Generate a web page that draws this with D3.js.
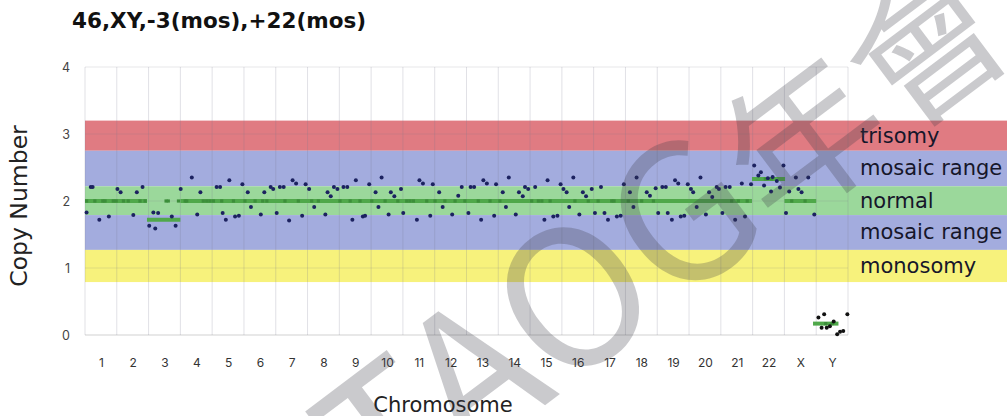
<!DOCTYPE html>
<html><head><meta charset="utf-8">
<script src="https://cdn.jsdelivr.net/npm/d3@7"></script>
<style>body{margin:0;background:#fff;}svg{display:block;font-family:"DejaVu Sans",sans-serif;}</style>
</head><body><svg id="c" width="1007" height="416"></svg>
<script>
const title = "46,XY,-3(mos),+22(mos)";
const chromosomes = ["1","2","3","4","5","6","7","8","9","10","11","12","13","14","15","16","17","18","19","20","21","22","X","Y"];
const yTicks = [0,1,2,3,4];
const bands = [
  {label:"trisomy", lo:2.75, hi:3.2, color:"#e07b82"},
  {label:"mosaic range", lo:2.22, hi:2.75, color:"#a3acde"},
  {label:"normal", lo:1.79, hi:2.22, color:"#9bd89b"},
  {label:"mosaic range", lo:1.27, hi:1.79, color:"#a3acde"},
  {label:"monosomy", lo:0.79, hi:1.27, color:"#f7f27c"}
];
// segment calls: [start, end, copy number] in genome column units
const segStart = [0, 1.95, 3, 20.98, 22, 22.9];
const segEnd   = [1.95, 3, 20.98, 22.02, 23, 23.7];
const segValue = [2.0, 1.72, 2.0, 2.33, 2.0, 0.17];
// bin positions (column units) and copy numbers
const binPos = [0.05,0.18,0.24,0.45,0.75,1.02,1.12,1.52,1.63,1.81,
 2.02,2.15,2.21,2.30,2.73,2.85,
 3.01,3.36,3.53,3.63,
 4.14,4.25,4.33,4.43,4.54,4.72,4.84,4.95,
 5.12,5.22,5.53,5.64,5.84,5.92,
 6.03,6.13,6.25,6.42,6.53,6.64,6.83,
 6.94,7.05,7.21,7.56,7.63,7.73,7.83,7.94,
 8.13,8.25,8.41,8.52,8.74,8.81,8.94,
 9.14,9.23,9.33,9.55,9.62,9.73,9.94,
 10.01,10.44,10.52,10.63,10.86,10.94,
 11.14,11.25,11.55,11.74,11.85,
 12.06,12.13,12.24,12.46,12.53,12.64,12.87,12.93,
 13.14,13.24,13.33,13.55,13.65,13.77,13.84,13.94,
 14.16,14.45,14.55,14.73,14.86,14.96,
 15.05,15.15,15.23,15.36,15.55,15.66,15.76,15.94,
 16.04,16.23,16.34,16.45,16.73,16.85,
 16.95,17.14,17.25,17.35,17.67,17.77,
 17.95,18.03,18.16,18.27,18.33,18.46,18.56,18.66,18.74,18.85,
 18.96,19.06,19.13,19.24,19.36,19.53,19.63,19.73,19.87,
 19.94,20.05,20.15,20.28,20.45,20.66,20.76,20.95,
 21.05,21.18,21.26,21.36,21.48,21.58,21.63,21.76,21.86,21.97,
 22.05,22.15,22.36,22.44,22.54,22.75,22.94,
 23.07,23.17,23.25,23.33,23.43,23.55,23.66,23.75,23.85,23.98];
const binValue = [1.83,2.21,2.21,1.72,1.77,2.18,2.13,1.79,2.13,2.21,
 1.63,1.83,1.59,1.82,1.77,1.63,
 2.18,2.35,1.80,2.13,
 2.21,2.21,1.82,1.72,2.31,1.77,1.78,2.25,
 2.13,1.91,1.80,2.13,2.21,2.18,
 1.82,2.21,2.21,1.71,2.31,2.26,1.78,
 2.25,2.18,1.91,1.80,2.13,2.07,2.21,2.18,
 2.21,2.21,1.72,2.31,1.77,1.78,2.25,
 2.13,1.91,2.35,1.80,2.13,2.07,2.18,
 1.82,1.72,2.31,2.26,1.78,2.25,
 2.13,1.91,1.80,2.08,2.21,
 1.82,2.21,2.21,1.72,2.31,2.26,1.78,2.25,
 2.13,1.91,2.35,1.80,2.13,2.07,2.21,2.18,
 2.21,1.72,2.31,1.77,1.78,2.25,
 2.18,2.13,1.91,2.35,1.80,2.13,2.07,2.18,
 1.82,2.21,1.82,1.72,1.77,1.78,
 2.25,2.13,1.91,2.35,2.13,2.08,
 2.19,1.82,2.21,2.21,1.82,1.72,2.31,2.26,1.77,1.78,
 2.25,2.18,2.13,1.91,2.35,1.80,2.13,2.06,2.21,
 2.18,1.82,2.21,2.21,1.72,2.26,1.77,2.25,
 2.53,2.38,2.43,2.23,2.34,2.14,2.36,2.30,2.20,2.53,
 1.82,2.14,2.35,2.18,2.13,2.35,1.80,
 0.26,0.11,0.31,0.11,0.13,0.20,0.01,0.05,0.06,0.31];
// small segment-marker points
const markPos = [0.05,0.31,0.56,0.63,0.89,0.98,1.21,1.36,1.73,1.89,2.55,2.62,2.94,3.15,3.2,3.72,3.83,3.93,4.04,4.3,4.67,5.03,5.35,5.59,
 5.72,6.29,6.71,7.13,7.34,8.02,8.34,8.65,9.02,9.44,9.84,10.12,10.22,10.33,10.75,11.01,11.32,
 11.64,11.95,12.37,12.74,13.05,14.05,14.26,14.37,14.63,15.41,15.83,16.14,16.57,16.64,17.09,
 17.51,17.88,20.34,20.55,20.83,21.4,21.6,22.23,22.65,23.3,23.5];
const markValue = [2,2,2,2,2,2,2,2,2,2,2,2,2,2,2,2,2,2,2,2,2,2,2,2,
 2,2,2,2,2,2,2,2,2,2,2,2,2,2,2,2,2,
 2,2,2,2,2,2,2,2,2,2,2,2,2,2,2,
 2,2,2,2,2,2.33,2.33,2,2,0.17,0.17];
const watermarkLatin = "TAOG";
const watermarkCJK = "年會";

const svg = d3.select("#c");
const x = d3.scaleLinear().domain([0, chromosomes.length]).range([85, 848]);
const y = d3.scaleLinear().domain([0, 4]).range([335, 67]);

// bands (extend to right edge)
svg.append("g").selectAll("rect").data(bands).join("rect")
  .attr("x", x(0)).attr("width", 1007 - x(0))
  .attr("y", d => y(d.hi)).attr("height", d => y(d.lo) - y(d.hi))
  .attr("fill", d => d.color);

// grid
const grid = svg.append("g");
grid.selectAll("line.v").data(d3.range(0, chromosomes.length + 1)).join("line")
  .attr("x1", d => x(d)).attr("x2", d => x(d)).attr("y1", y(0)).attr("y2", y(4))
  .attr("stroke", "rgba(120,120,140,0.22)").attr("stroke-width", 1);
grid.selectAll("line.h").data(yTicks).join("line")
  .attr("x1", x(0)).attr("x2", x(chromosomes.length)).attr("y1", d => y(d)).attr("y2", d => y(d))
  .attr("stroke", d => d === 0 ? "rgba(120,120,120,0.35)" : "rgba(120,120,140,0.18)");

// band labels
svg.append("g").selectAll("text").data(bands).join("text")
  .attr("x", 860).attr("y", d => (y(d.hi) + y(d.lo)) / 2)
  .attr("dy", "0.33em").attr("font-size", 21).attr("fill", "#16162a")
  .attr("font-family", "'DejaVu Sans',sans-serif")
  .text(d => d.label);

// y axis
const yAxis = d3.axisLeft(y).tickValues(yTicks).tickSize(0).tickPadding(0).tickFormat(d3.format("d"));
const ya = svg.append("g").attr("transform", "translate(70,0)").call(yAxis);
ya.select(".domain").remove();
ya.selectAll("text").attr("font-size", 12.5).attr("fill", "#444").attr("font-family", "Inter,sans-serif");

// x axis labels at chromosome centres
const xAxis = d3.axisBottom(x).tickValues(d3.range(chromosomes.length).map(i => i + 0.5))
  .tickSize(0).tickPadding(0).tickFormat((d, i) => chromosomes[i]);
const xa = svg.append("g").attr("transform", "translate(0,360)").call(xAxis);
xa.select(".domain").remove();
xa.selectAll("text").attr("font-size", 12).attr("fill", "#333").attr("font-family", "Inter,sans-serif").attr("dy", "0.6em");

// segments
const segs = segStart.map((s, i) => ({s, e: segEnd[i], v: segValue[i]}));
svg.append("g").selectAll("line").data(segs).join("line")
  .attr("x1", d => x(d.s)).attr("x2", d => x(d.e))
  .attr("y1", d => y(d.v)).attr("y2", d => y(d.v))
  .attr("stroke", "#4fa84a").attr("stroke-width", 4);

// marker points
svg.append("g").selectAll("rect").data(markPos.map((p, i) => ({p, v: markValue[i]}))).join("rect")
  .attr("x", d => x(d.p) - 1.6).attr("y", d => y(d.v) - 1.6).attr("width", 3.2).attr("height", 3.2)
  .attr("fill", "#3c8e3a");

// bin points
svg.append("g").selectAll("circle").data(binPos.map((p, i) => ({p, v: binValue[i]}))).join("circle")
  .attr("cx", d => x(d.p)).attr("cy", d => y(d.v)).attr("r", 2)
  .attr("fill", d => d.v < 1 ? "#111" : "#1c2260");

// titles
svg.append("text").attr("x", 72).attr("y", 28).attr("font-size", 21.5).attr("font-weight", 700)
  .attr("font-family", "'DejaVu Sans',sans-serif").attr("fill", "#111").text(title);
svg.append("text").attr("transform", "translate(27,206) rotate(-90)").attr("text-anchor", "middle")
  .attr("font-size", 23.5).attr("fill", "#222").attr("font-family", "'DejaVu Sans',sans-serif").text("Copy Number");
svg.append("text").attr("x", 443).attr("y", 412).attr("text-anchor", "middle")
  .attr("font-size", 21).attr("fill", "#222").attr("font-family", "'DejaVu Sans',sans-serif").text("Chromosome");

// watermark
const wm = svg.append("g").attr("transform", "translate(776,231) rotate(-37)")
  .attr("fill", "rgba(60,60,70,0.27)").attr("font-family", "'Noto Sans CJK TC',sans-serif");
wm.append("text").attr("text-anchor", "end").attr("font-size", 190).text(watermarkLatin);
wm.append("text").attr("text-anchor", "start").attr("font-size", 155).text(watermarkCJK);
</script></body></html>
